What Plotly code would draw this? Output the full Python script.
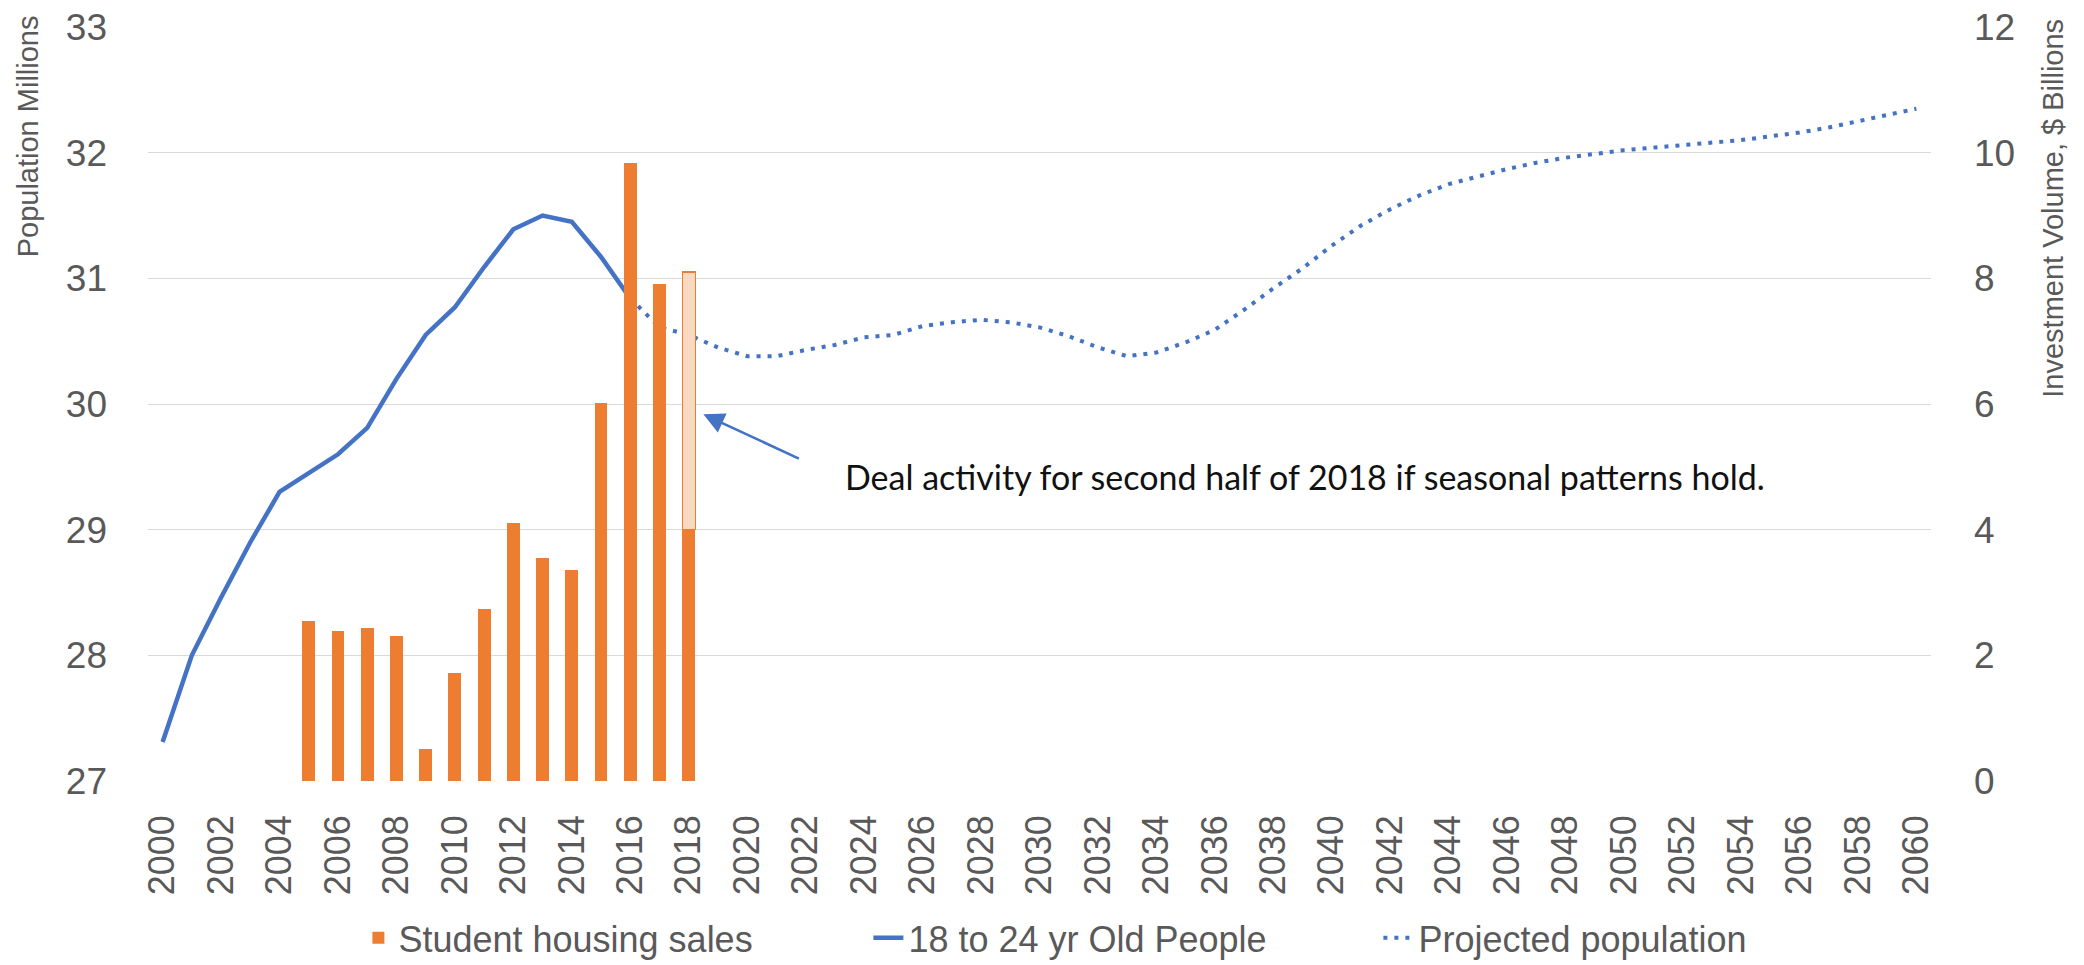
import plotly.graph_objects as go

# ---------------- data ----------------
hist_years = list(range(2000, 2017))
hist_pop = [27.31, 28.00, 28.46, 28.90, 29.30, 29.45, 29.60, 29.81, 30.20, 30.55,
            30.77, 31.09, 31.39, 31.50, 31.45, 31.17, 30.84]

proj_years = list(range(2016, 2061))
proj_pop = [30.84, 30.61, 30.55, 30.45, 30.38, 30.38, 30.43, 30.47, 30.53, 30.55,
            30.62, 30.65, 30.67, 30.65, 30.61, 30.54, 30.45, 30.38, 30.41, 30.49,
            30.59, 30.75, 30.92, 31.08, 31.26, 31.42, 31.55, 31.66, 31.75, 31.81,
            31.87, 31.92, 31.96, 31.99, 32.02, 32.04, 32.06, 32.08, 32.10, 32.13,
            32.16, 32.20, 32.25, 32.30, 32.35]

sales_years = list(range(2005, 2019))
sales_vals = [2.54, 2.39, 2.44, 2.31, 0.51, 1.72, 2.73, 4.10, 3.55, 3.36,
              6.01, 9.84, 7.91, 4.00]

h2_years = [2018]
h2_vals = [4.10]

x_ticks = list(range(2000, 2061, 2))

# ---------------- styles ----------------
SANS = "Liberation Sans, Arial, sans-serif"
GREY = "#595959"
ORANGE = "#ED7D31"
BLUE = "#4472C4"

fig = go.Figure()

fig.add_trace(go.Bar(
    x=sales_years, y=sales_vals, name="Student housing sales",
    marker=dict(color=ORANGE, line=dict(width=0)), width=0.44,
    yaxis="y2",
))
fig.add_trace(go.Bar(
    x=h2_years, y=h2_vals, name="H2 2018 estimate", showlegend=False,
    marker=dict(color="#FAD9C3", line=dict(color=ORANGE, width=1.2)), width=0.44,
    yaxis="y2",
))
fig.add_trace(go.Scatter(
    x=hist_years, y=hist_pop, name="18 to 24 yr Old People", mode="lines",
    line=dict(color=BLUE, width=4.5),
))
fig.add_trace(go.Scatter(
    x=proj_years, y=proj_pop, name="Projected population", mode="lines",
    line=dict(color=BLUE, width=4, dash="4px,7px"),
))

# page body has an 8px margin, so the figure is drawn 8px in from the corner
fig.update_layout(
    width=2076, height=957,
    margin=dict(l=140, r=153, t=19, b=184, autoexpand=False),
    paper_bgcolor="white", plot_bgcolor="white",
    barmode="stack",
    showlegend=True,
    legend=dict(orientation="h", x=0.118, xanchor="left", y=-0.208, yanchor="middle",
                font=dict(family=SANS, size=36, color=GREY), entrywidth=465,
                traceorder="normal", bgcolor="rgba(0,0,0,0)"),
    xaxis=dict(range=[1999.5, 2060.5], tickmode="array", tickvals=x_ticks,
               ticktext=[str(v) for v in x_ticks], tickangle=-90,
               tickfont=dict(family=SANS, size=36, color=GREY),
               showgrid=False, zeroline=False, showline=False, automargin=False,
               ticklabelstandoff=26, ticklabeloverflow="allow"),
    yaxis=dict(range=[27, 33], dtick=1, tick0=27,
               tickfont=dict(family=SANS, size=37, color=GREY),
               gridcolor="#D9D9D9", gridwidth=1.3, zeroline=False, showline=False,
               automargin=False, ticklabelstandoff=40, ticklabeloverflow="allow"),
    yaxis2=dict(range=[0, 12], dtick=2, tick0=0, overlaying="y", side="right",
                tickfont=dict(family=SANS, size=37, color=GREY),
                showgrid=False, zeroline=False, showline=False, automargin=False,
                ticklabelstandoff=42, ticklabeloverflow="allow"),
    annotations=[
        dict(text="Population Millions", xref="paper", yref="paper", x=0, y=0.855,
             xshift=-120, xanchor="center", yanchor="middle", textangle=-90,
             showarrow=False, font=dict(family=SANS, size=29, color=GREY)),
        dict(text="Investment Volume, $ Billions", xref="paper", yref="paper", x=1,
             y=0.759, xshift=122, xanchor="center", yanchor="middle", textangle=-90,
             showarrow=False, font=dict(family=SANS, size=29, color=GREY)),
        dict(text="", x=2018.5, y=29.918, xref="x", yref="y",
             ax=97, ay=45, showarrow=True, arrowhead=2, arrowsize=1.6,
             arrowwidth=2.6, arrowcolor=BLUE),
        dict(text="Deal activity for second half of 2018 if seasonal patterns hold.",
             x=2023.45, y=29.42, xref="x", yref="y", xanchor="left", yanchor="middle",
             xshift=-5,
             showarrow=False, font=dict(family="Lato, Carlito, Calibri, sans-serif",
                                        size=34, color="#111111")),
    ],
)

fig.write_html("out.html")
